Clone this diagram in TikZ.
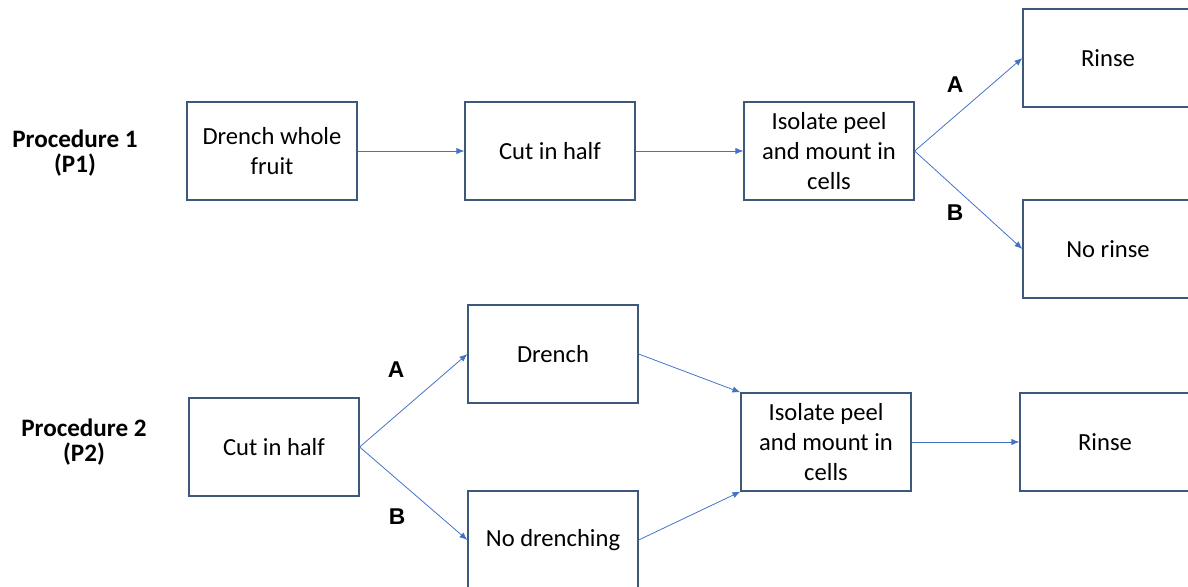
\documentclass[tikz,border=0pt]{standalone}
\usepackage{fontspec}
\setmainfont{Carlito}
\newfontfamily\lettrefont{Liberation Sans}
\usetikzlibrary{arrows.meta}

\definecolor{bordbleu}{RGB}{62,88,124}
\definecolor{flechebleu}{RGB}{68,114,196}

\begin{document}
\begin{tikzpicture}[x=0.02cm, y=-0.02cm, >={Latex[length=4.5pt,width=3.6pt]},
		etape/.style={draw=bordbleu, line width=0.75pt, minimum width=3.4cm, minimum height=1.96cm, inner sep=0pt, align=center, font=\fontsize{14}{17}\selectfont},
		fleche/.style={->, flechebleu, line width=0.45pt},
		lettre/.style={font=\lettrefont\bfseries\fontsize{13}{15}\selectfont},
		titre/.style={align=center, font=\bfseries\fontsize{14.3}{14}\selectfont}]
		% Cadre de la page
		\clip (0,0) rectangle (1188,586);

		% Procédure 1
		\node[titre] (titre1) at (75,153) {Procedure 1\\(P1)};
		\node[etape] (tremper1) at (272,151) {Drench whole\\fruit};
		\node[etape] (couper1) at (550,151) {Cut in half};
		\node[etape] (isoler1) at (829,151) {Isolate peel\\and mount in\\cells};
		\node[etape] (rincer1) at (1108,58) {Rinse};
		\node[etape] (norincer1) at (1108,249) {No rinse};

		\draw[fleche] (tremper1) -- (couper1);
		\draw[fleche] (couper1) -- (isoler1);
		\draw[fleche] (isoler1.east) -- (rincer1.west);
		\draw[fleche] (isoler1.east) -- (norincer1.west);
		\node[lettre] (a1) at (955,85) {A};
		\node[lettre] (b1) at (955,213) {B};

		% Procédure 2
		\node[titre] (titre2) at (84,442) {Procedure 2\\(P2)};
		\node[etape] (couper2) at (274,447) {Cut in half};
		\node[etape] (tremper2) at (553,354) {Drench};
		\node[etape] (notremper2) at (553,540) {No drenching};
		\node[etape] (isoler2) at (826,442) {Isolate peel\\and mount in\\cells};
		\node[etape] (rincer2) at (1105,442) {Rinse};

		\draw[fleche] (couper2.east) -- (tremper2.west);
		\draw[fleche] (couper2.east) -- (notremper2.west);
		\draw[fleche] (tremper2.east) -- (isoler2.north west);
		\draw[fleche] (notremper2.east) -- (isoler2.south west);
		\draw[fleche] (isoler2) -- (rincer2);
		\node[lettre] (a2) at (396,370) {A};
		\node[lettre] (b2) at (397,517) {B};
	\end{tikzpicture}
\end{document}
